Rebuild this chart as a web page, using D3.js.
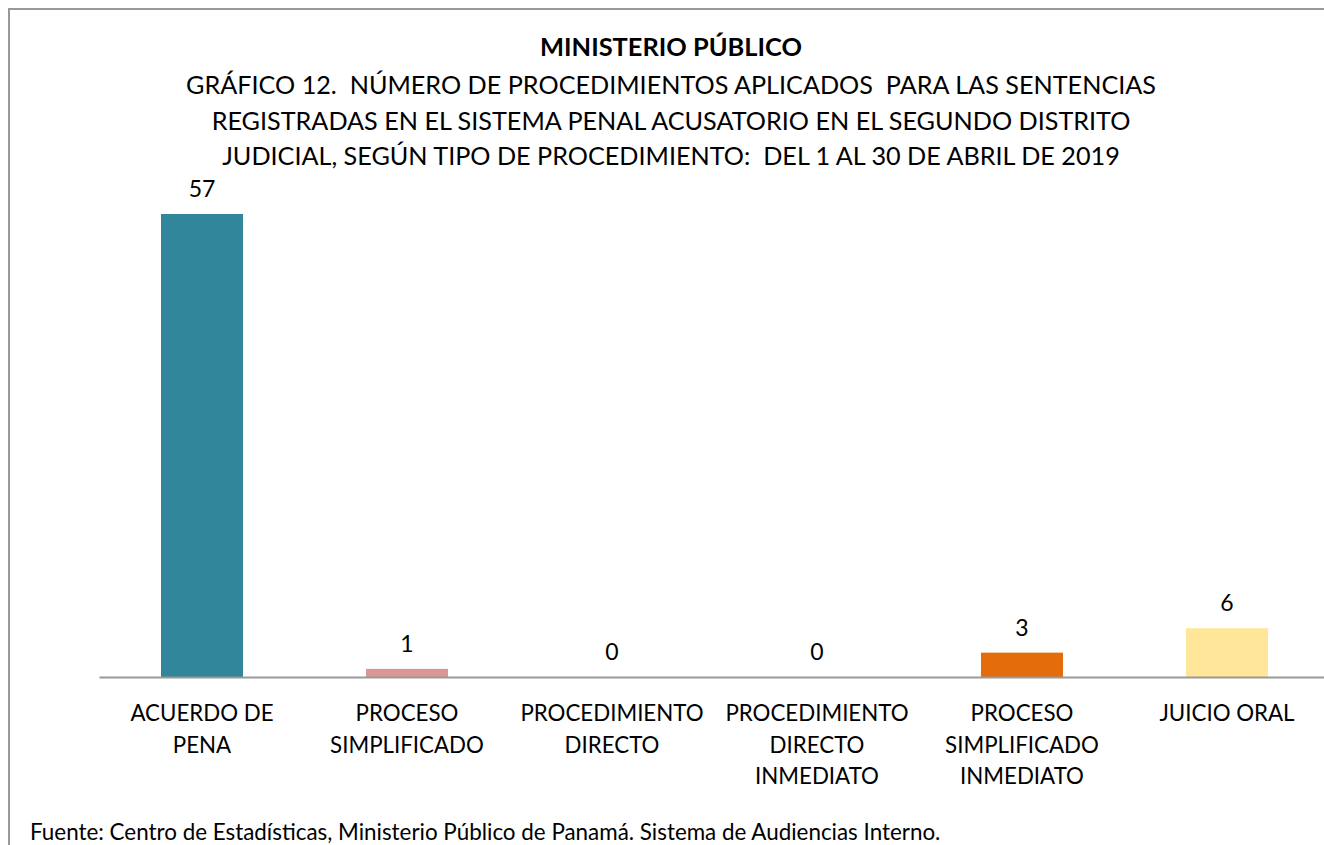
<!DOCTYPE html>
<html>
<head>
<meta charset="utf-8">
<script src="https://cdn.jsdelivr.net/npm/d3@7"></script>
<style>
  body { margin: 0; background: #fff; }
  svg { display: block; font-family: Lato, "Open Sans", sans-serif; }
  text { white-space: pre; }
</style>
</head>
<body>
<div id="chart"></div>
<script>
// Chart data
const categories = [
    ['ACUERDO DE', 'PENA'],
    ['PROCESO', 'SIMPLIFICADO'],
    ['PROCEDIMIENTO', 'DIRECTO'],
    ['PROCEDIMIENTO', 'DIRECTO', 'INMEDIATO'],
    ['PROCESO', 'SIMPLIFICADO', 'INMEDIATO'],
    ['JUICIO ORAL']
];
const values = [57, 1, 0, 0, 3, 6];
const colors = ['#31869B', '#DA9694', '#4F81BD', '#8064A2', '#E46C0A', '#FFE699'];

const titleText = 'MINISTERIO PÚBLICO';
const subtitleLines = [
    'GRÁFICO 12.  NÚMERO DE PROCEDIMIENTOS APLICADOS  PARA LAS SENTENCIAS',
    'REGISTRADAS EN EL SISTEMA PENAL ACUSATORIO EN EL SEGUNDO DISTRITO',
    'JUDICIAL, SEGÚN TIPO DE PROCEDIMIENTO:  DEL 1 AL 30 DE ABRIL DE 2019'
];
const sourceText = 'Fuente: Centro de Estadísticas, Ministerio Público de Panamá. Sistema de Audiencias Interno.';

const width = 1324;
const height = 845;

const svg = d3.select('#chart')
    .append('svg')
    .attr('width', width)
    .attr('height', height);

// Chart border (runs off the right and bottom edges)
svg.append('path')
    .attr('d', `M9,${height} V9 H${width}`)
    .style('fill', 'none')
    .style('stroke', '#999')
    .style('stroke-width', '2px');

// Titles
const cx = 671;
svg.append('text')
    .attr('x', cx)
    .attr('y', 56)
    .attr('text-anchor', 'middle')
    .style('font-size', '25.4px')
    .style('font-weight', 'bold')
    .text(titleText);

svg.selectAll('.subtitle')
    .data(subtitleLines)
    .enter()
    .append('text')
    .attr('class', 'subtitle')
    .attr('x', cx)
    .attr('y', (d, i) => 94 + i * 35.5)
    .attr('text-anchor', 'middle')
    .style('font-size', '25.2px')
    .text(d => d);

// Scales
const x = d3.scaleBand()
    .domain(d3.range(values.length))
    .range([99.5, 1329.5])
    .paddingInner(0.6)
    .paddingOuter(0.3);

const y = d3.scaleLinear()
    .domain([0, 57])
    .range([677, 214]);

// Bars
svg.selectAll('.bar')
    .data(values)
    .enter()
    .append('rect')
    .attr('class', 'bar')
    .attr('x', (d, i) => x(i))
    .attr('y', d => y(d))
    .attr('width', x.bandwidth())
    .attr('height', d => y(0) - y(d))
    .style('fill', (d, i) => colors[i]);

// Axis line
svg.append('line')
    .attr('x1', 99.5)
    .attr('x2', width)
    .attr('y1', y(0) + 0.5)
    .attr('y2', y(0) + 0.5)
    .style('stroke', '#999')
    .style('stroke-width', '2px');

// Value labels
svg.selectAll('.value')
    .data(values)
    .enter()
    .append('text')
    .attr('class', 'value')
    .attr('x', (d, i) => x(i) + x.bandwidth() / 2)
    .attr('y', d => y(d) - 17)
    .attr('text-anchor', 'middle')
    .style('font-size', '23px')
    .text(d => d);

// Category labels
const cat = svg.selectAll('.cat')
    .data(categories)
    .enter()
    .append('text')
    .attr('class', 'cat')
    .attr('x', (d, i) => x(i) + x.bandwidth() / 2)
    .attr('y', 721)
    .attr('text-anchor', 'middle')
    .style('font-size', '22.3px');

cat.selectAll('tspan')
    .data((d, i) => d.map(line => ({ line, i })))
    .enter()
    .append('tspan')
    .attr('x', d => x(d.i) + x.bandwidth() / 2)
    .attr('dy', (d, j) => j === 0 ? 0 : 31.5)
    .text(d => d.line);

// Source note
svg.append('text')
    .attr('x', 30)
    .attr('y', 840)
    .style('font-size', '22.4px')
    .text(sourceText);
</script>
</body>
</html>
